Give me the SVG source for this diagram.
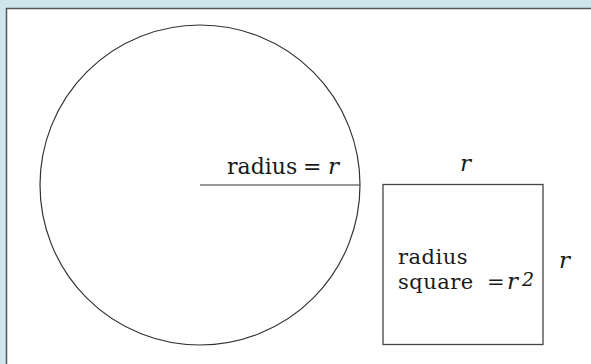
<svg xmlns="http://www.w3.org/2000/svg" width="591" height="364" viewBox="0 0 591 364">
<defs>
<style>
text{font-family:'DejaVu Serif',serif;fill:#1a1a1a}
.lbl{font-size:22px}
.sq{font-size:21px;letter-spacing:0.5px}
.var{font-size:23px;font-style:italic;letter-spacing:0}
.sup{font-size:19px;font-style:italic;letter-spacing:0}
.shape{fill:none;stroke:#333;stroke-width:1.2}
</style>
</defs>
<rect x="0" y="0" width="591" height="364" fill="#cfe6ed"/>
<rect x="6.5" y="8.5" width="600" height="400" fill="#fff" stroke="#555" stroke-width="1.5"/>
<g id="circle">
<circle class="shape" cx="200" cy="185" r="160"/>
<text class="lbl" x="227" y="174">radius<tspan x="303">=</tspan><tspan class="var" x="328">r</tspan></text>
</g>
<g id="connectors">
<line class="shape" x1="200" y1="185" x2="360" y2="185"/>
</g>
<g id="square">
<rect x="383" y="184.5" width="160" height="160" fill="none" stroke="#444" stroke-width="1.3"/>
<text class="sq" x="398" y="264">radius</text>
<text class="sq" x="398" y="289">square<tspan x="487">=</tspan><tspan class="var" x="507">r</tspan><tspan class="sup" x="522" dy="-3">2</tspan></text>
</g>
<g id="side-top"><text class="var" x="460" y="171">r</text></g>
<g id="side-right"><text class="var" x="559" y="268">r</text></g>
</svg>
